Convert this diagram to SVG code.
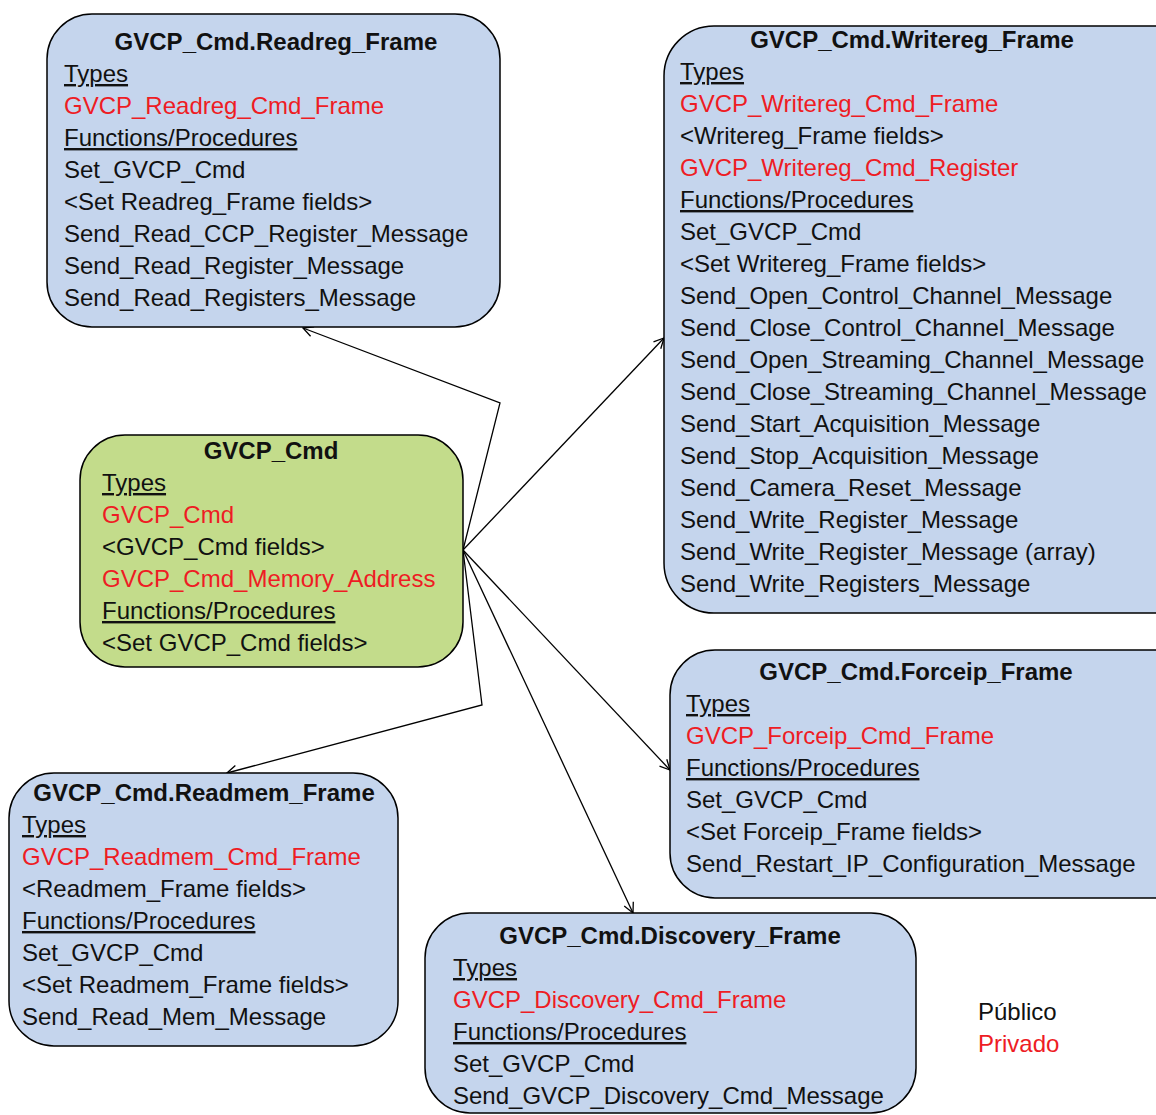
<svg xmlns="http://www.w3.org/2000/svg" width="1156" height="1115" viewBox="0 0 1156 1115">
  <style>
    .box { fill: #c5d5ed; stroke: #000; stroke-width: 1.5; }
    .boxg { fill: #c3dc8b; stroke: #000; stroke-width: 1.5; }
    text { font-family: "Liberation Sans", Arial, sans-serif; font-size: 24px; fill: #111; }
    .t { font-weight: bold; text-anchor: middle; }
    .u { text-decoration: underline; }
    .r { fill: #ee1c24; }
    .c { fill: none; stroke: #000; stroke-width: 1.3; }
  </style>
  <defs>
    <marker id="arr" viewBox="0 0 12 12" refX="11" refY="6" markerWidth="12" markerHeight="12" markerUnits="userSpaceOnUse" orient="auto">
      <path d="M1 1 L11 6 L1 11" fill="none" stroke="#000" stroke-width="1.3"/>
    </marker>
  </defs>

  <g id="connectors">
    <polyline class="c" points="463,550 500,403 303,328" marker-end="url(#arr)"/>
    <line class="c" x1="463" y1="550" x2="664" y2="338" marker-end="url(#arr)"/>
    <line class="c" x1="463" y1="550" x2="670" y2="770" marker-end="url(#arr)"/>
    <line class="c" x1="463" y1="550" x2="633" y2="913" marker-end="url(#arr)"/>
    <polyline class="c" points="463,550 482,705 227,773" marker-end="url(#arr)"/>
  </g>

  <g id="readreg">
    <rect class="box" x="47" y="14" width="453" height="313" rx="45"/>
    <text class="t" x="276" y="50">GVCP_Cmd.Readreg_Frame</text>
    <text class="u" x="64" y="82">Types</text>
    <text class="r" x="64" y="114">GVCP_Readreg_Cmd_Frame</text>
    <text class="u" x="64" y="146">Functions/Procedures</text>
    <text x="64" y="178">Set_GVCP_Cmd</text>
    <text x="64" y="210">&lt;Set Readreg_Frame fields&gt;</text>
    <text x="64" y="242">Send_Read_CCP_Register_Message</text>
    <text x="64" y="274">Send_Read_Register_Message</text>
    <text x="64" y="306">Send_Read_Registers_Message</text>
  </g>

  <g id="writereg">
    <rect class="box" x="664" y="26" width="540" height="587" rx="50"/>
    <text class="t" x="912" y="48">GVCP_Cmd.Writereg_Frame</text>
    <text class="u" x="680" y="80">Types</text>
    <text class="r" x="680" y="112">GVCP_Writereg_Cmd_Frame</text>
    <text x="680" y="144">&lt;Writereg_Frame fields&gt;</text>
    <text class="r" x="680" y="176">GVCP_Writereg_Cmd_Register</text>
    <text class="u" x="680" y="208">Functions/Procedures</text>
    <text x="680" y="240">Set_GVCP_Cmd</text>
    <text x="680" y="272">&lt;Set Writereg_Frame fields&gt;</text>
    <text x="680" y="304">Send_Open_Control_Channel_Message</text>
    <text x="680" y="336">Send_Close_Control_Channel_Message</text>
    <text x="680" y="368">Send_Open_Streaming_Channel_Message</text>
    <text x="680" y="400">Send_Close_Streaming_Channel_Message</text>
    <text x="680" y="432">Send_Start_Acquisition_Message</text>
    <text x="680" y="464">Send_Stop_Acquisition_Message</text>
    <text x="680" y="496">Send_Camera_Reset_Message</text>
    <text x="680" y="528">Send_Write_Register_Message</text>
    <text x="680" y="560">Send_Write_Register_Message (array)</text>
    <text x="680" y="592">Send_Write_Registers_Message</text>
  </g>

  <g id="gvcp_cmd">
    <rect class="boxg" x="80" y="435" width="383" height="232" rx="45"/>
    <text class="t" x="271" y="459">GVCP_Cmd</text>
    <text class="u" x="102" y="491">Types</text>
    <text class="r" x="102" y="523">GVCP_Cmd</text>
    <text x="102" y="555">&lt;GVCP_Cmd fields&gt;</text>
    <text class="r" x="102" y="587">GVCP_Cmd_Memory_Address</text>
    <text class="u" x="102" y="619">Functions/Procedures</text>
    <text x="102" y="651">&lt;Set GVCP_Cmd fields&gt;</text>
  </g>

  <g id="readmem">
    <rect class="box" x="9" y="773" width="389" height="273" rx="45"/>
    <text class="t" x="204" y="801">GVCP_Cmd.Readmem_Frame</text>
    <text class="u" x="22" y="833">Types</text>
    <text class="r" x="22" y="865">GVCP_Readmem_Cmd_Frame</text>
    <text x="22" y="897">&lt;Readmem_Frame fields&gt;</text>
    <text class="u" x="22" y="929">Functions/Procedures</text>
    <text x="22" y="961">Set_GVCP_Cmd</text>
    <text x="22" y="993">&lt;Set Readmem_Frame fields&gt;</text>
    <text x="22" y="1025">Send_Read_Mem_Message</text>
  </g>

  <g id="forceip">
    <rect class="box" x="670" y="650" width="534" height="248" rx="45"/>
    <text class="t" x="916" y="680">GVCP_Cmd.Forceip_Frame</text>
    <text class="u" x="686" y="712">Types</text>
    <text class="r" x="686" y="744">GVCP_Forceip_Cmd_Frame</text>
    <text class="u" x="686" y="776">Functions/Procedures</text>
    <text x="686" y="808">Set_GVCP_Cmd</text>
    <text x="686" y="840">&lt;Set Forceip_Frame fields&gt;</text>
    <text x="686" y="872">Send_Restart_IP_Configuration_Message</text>
  </g>

  <g id="discovery">
    <rect class="box" x="425" y="913" width="491" height="200" rx="45"/>
    <text class="t" x="670" y="944">GVCP_Cmd.Discovery_Frame</text>
    <text class="u" x="453" y="976">Types</text>
    <text class="r" x="453" y="1008">GVCP_Discovery_Cmd_Frame</text>
    <text class="u" x="453" y="1040">Functions/Procedures</text>
    <text x="453" y="1072">Set_GVCP_Cmd</text>
    <text x="453" y="1104">Send_GVCP_Discovery_Cmd_Message</text>
  </g>

  <g id="legend">
    <text x="978" y="1020">Público</text>
    <text class="r" x="978" y="1052">Privado</text>
  </g>
</svg>
